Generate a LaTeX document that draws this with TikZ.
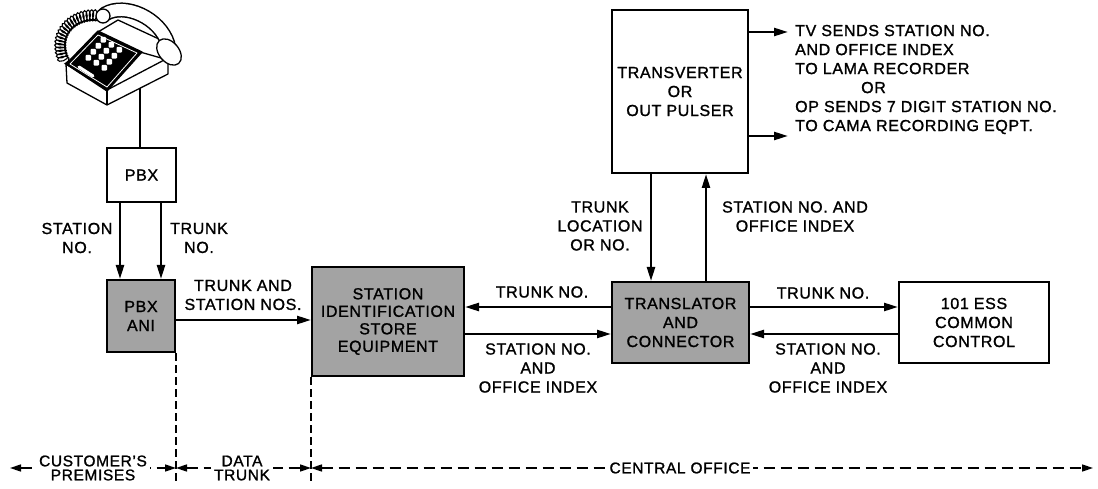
\documentclass[tikz,border=0pt]{standalone}
\usepackage{fontspec}
\setmainfont{Liberation Sans}[LetterSpace=4.0, BoldFont={Liberation Sans}, BoldFeatures={FakeBold=1.3}]
\usetikzlibrary{arrows.meta,decorations.pathmorphing,calc}

\tikzset{
  lbl/.style={font=\fontsize{16}{19}\selectfont\bfseries, align=center, inner sep=0pt},
  blk/.style={lbl, draw, line width=2pt, fill=white, anchor=north west},
  shaded/.style={blk, fill=black!36},
  sig/.style={line width=2.4pt, -{Triangle[length=14pt,width=8pt]}},
  bound/.style={line width=1.4pt, dash pattern=on 8pt off 4pt},
  zone/.style={line width=1.6pt, dash pattern=on 11pt off 6pt,
    {Triangle[length=11pt,width=7pt]}-{Triangle[length=11pt,width=7pt]}},
  zlbl/.style={font=\fontsize{15.5}{14}\selectfont\bfseries, align=center, fill=white, inner xsep=3pt, inner ysep=0pt},
  phone/.style={line width=1.3pt, line join=round},
}

\begin{document}
\begin{tikzpicture}[x=1pt, y=-1pt]
\useasboundingbox (0,0) rectangle (1098,489);

% ---- desk telephone ----
% coiled handset cord
\draw[decorate, decoration={coil, aspect=0.55, segment length=3.2pt, amplitude=5.5pt}, line width=1.1pt]
  (100,16) .. controls (72,12) and (50,36) .. (66,64);
% base of the set
\draw[phone, fill=white] (66,64) -- (67,83) -- (107,105) -- (168,74) -- (168,58) -- (107,90) -- cycle;
\draw[phone] (107,90) -- (107,105);
% rear housing under the handset
\draw[phone, fill=white] (98,32) -- (118,20) -- (174,46) -- (168,60) -- (140,52) -- cycle;
% dial face
\draw[phone, fill=black] (66,64) -- (98,31) -- (142,52) -- (107,91) -- cycle;
\draw[white, line width=0.8pt, line join=round] (70,64) -- (98,35) -- (137,53) -- (107,87) -- cycle;
\foreach \i in {0,1,2}
  \foreach \j in {0,1,2,3}
    \fill[white, rounded corners=1pt] ({85.5+8*\i+5*\j},{55+5*\i-6*\j}) rectangle ++(5.6,5.6);
\draw[white, line width=3pt, line cap=round] (79,67) -- (93,76);
% handset
\draw[line width=15pt, line cap=round] (105,14) .. controls (125,2) and (160,18) .. (168,44);
\draw[white, line width=12pt, line cap=round] (105,14) .. controls (125,2) and (160,18) .. (168,44);
\draw[phone, fill=white, rotate around={-50:(169,52)}] (169,52) ellipse (15 and 10);
\draw[phone, fill=white] (103,16) circle (7);

% ---- blocks ----
\node[blk, minimum width=69pt, minimum height=54pt] (pbx) at (106,147) {PBX};
\node[shaded, minimum width=68pt, minimum height=72pt] (ani) at (106,279) {PBX\\ANI};
\node[shaded, minimum width=152pt, minimum height=109pt, font=\fontsize{16}{17.5}\selectfont\bfseries] (sise) at (311,266)
  {STATION\\IDENTIFICATION\\STORE\\EQUIPMENT};
\node[shaded, minimum width=137pt, minimum height=81pt] (tc) at (611,281) {TRANSLATOR\\AND\\CONNECTOR};
\node[blk, minimum width=150pt, minimum height=81pt] (ess) at (898,281) {101 ESS\\COMMON\\CONTROL};
\node[blk, minimum width=136pt, minimum height=163pt] (tv) at (611,9) {TRANSVERTER\\OR\\OUT PULSER};

% ---- connections ----
\coordinate (jack) at (140,88);
\draw[line width=1.8pt] (jack) -- (pbx.north -| jack);
\draw[sig] (pbx.south -| 120,0) -- (ani.north -| 120,0);
\draw[sig] (pbx.south -| 161,0) -- (ani.north -| 161,0);
\draw[sig] (ani.east |- 0,320) -- (sise.west |- 0,320);
\draw[sig] (tc.west |- 0,307) -- (sise.east |- 0,307);
\draw[sig] (sise.east |- 0,334) -- (tc.west |- 0,334);
\draw[sig] (tc.east |- 0,307) -- (ess.west |- 0,307);
\draw[sig] (ess.west |- 0,334) -- (tc.east |- 0,334);
\draw[sig] (tv.south -| 651,0) -- (tc.north -| 651,0);
\draw[sig] (tc.north -| 706,0) -- (tv.south -| 706,0);
\coordinate (out1) at (788,32);
\coordinate (out2) at (788,136);
\draw[sig] (tv.east |- out1) -- (out1);
\draw[sig] (tv.east |- out2) -- (out2);

% ---- labels ----
\node[lbl] (lsta) at (77,238) {STATION\\NO.};
\node[lbl] (ltrk) at (199,238) {TRUNK\\NO.};
\node[lbl] (ltsn) at (243,295) {TRUNK AND\\STATION NOS.};
\node[lbl] (ltn1) at (542,292) {TRUNK NO.};
\node[lbl] (lsoi1) at (538,368) {STATION NO.\\AND\\OFFICE INDEX};
\node[lbl] (ltl) at (600,226) {TRUNK\\LOCATION\\OR NO.};
\node[lbl] (lsoi2) at (795,216.5) {STATION NO. AND\\OFFICE INDEX};
\node[lbl] (ltn2) at (823,293) {TRUNK NO.};
\node[lbl] (lsoi3) at (828,368) {STATION NO.\\AND\\OFFICE INDEX};
\node[lbl, align=left, anchor=west] (lout) at (795,79.5)
  {TV SENDS STATION NO.\\AND OFFICE INDEX\\TO LAMA RECORDER\\\hspace*{66pt}OR\\OP SENDS 7 DIGIT STATION NO.\\TO CAMA RECORDING EQPT.};

% ---- premises boundaries ----
\coordinate (zl) at (10,468);
\coordinate (zr) at (1093,468);
\draw[bound] (ani.south east) -- (ani.south east |- 0,481);
\draw[bound] (sise.south west) -- (sise.south west |- 0,481);
\draw[zone] (zl) -- (ani.east |- zl);
\draw[zone] (ani.east |- zl) -- (sise.west |- zl);
\draw[zone] (sise.west |- zl) -- (zr);
\node[zlbl] (zcp) at (93,468) {CUSTOMER'S\\PREMISES};
\node[zlbl] (zdt) at (242,468) {DATA\\TRUNK};
\node[zlbl] (zco) at (680,468) {CENTRAL OFFICE};
\end{tikzpicture}
\end{document}
